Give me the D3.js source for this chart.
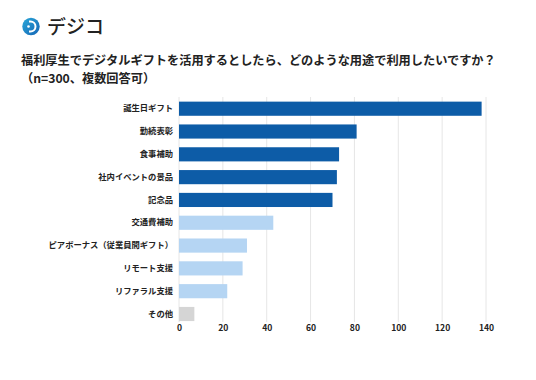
<!DOCTYPE html>
<html><head><meta charset="utf-8">
<script src="https://cdn.jsdelivr.net/npm/d3@7"></script>
<style>
body{margin:0;background:#fff;}
svg{display:block;font-family:"Noto Sans CJK JP","Noto Sans",sans-serif;}
</style></head>
<body>
<svg id="c" width="536" height="380"></svg>
<script>
const categories = ["誕生日ギフト","勤続表彰","食事補助","社内イベントの景品","記念品","交通費補助","ピアボーナス（従業員間ギフト）","リモート支援","リファラル支援","その他"];
const values = [138,81,73,72,70,43,31,29,22,7];
const groups = ["top","top","top","top","top","mid","mid","mid","mid","other"];
const tickValues = [0,20,40,60,80,100,120,140];
const titleLines = ["福利厚生でデジタルギフトを活用するとしたら、どのような用途で利用したいですか？","（n=300、複数回答可）"];
const colors = {top:"#0d5ca7", mid:"#b5d5f3", other:"#d5d5d5"};

const svg = d3.select("#c");
// logo
const defs = svg.append("defs");
const grad = defs.append("linearGradient").attr("id","lg").attr("x1","0").attr("y1","0").attr("x2","1").attr("y2","1");
grad.append("stop").attr("offset","0").attr("stop-color","#2aa7d8");
grad.append("stop").attr("offset","1").attr("stop-color","#1565b5");
svg.append("circle").attr("cx",31).attr("cy",26.5).attr("r",8.7).attr("fill","url(#lg)");
svg.append("path").attr("d","M29,21.5 h1.5 a5,5 0 0 1 0,10 h-1.5").attr("fill","none").attr("stroke","#fff").attr("stroke-width",2);
svg.append("circle").attr("cx",28.5).attr("cy",26.5).attr("r",1.3).attr("fill","#fff");
svg.append("text").attr("x",47).attr("y",33.5).attr("font-size",19).attr("font-weight",500).attr("fill","#222").text("デジコ");

// title
svg.selectAll("text.title").data(titleLines).join("text").attr("class","title")
  .attr("x",21).attr("y",(d,i)=>65+i*17.5).attr("font-size",12.2).attr("font-weight",700).attr("fill","#222").text(d=>d);

const x = d3.scaleLinear().domain([0,140]).range([179,486]);
const y = d3.scaleBand().domain(categories).range([97.3,325.4]).paddingInner(0.38).paddingOuter(0.19);

// grid
svg.append("g").selectAll("line").data(tickValues).join("line")
  .attr("x1",d=>x(d)).attr("x2",d=>x(d)).attr("y1",97).attr("y2",322)
  .attr("stroke","#e6e6e6").attr("stroke-width",1);

// bars
svg.append("g").selectAll("rect").data(categories).join("rect")
  .attr("x",x(0)).attr("y",d=>y(d)).attr("height",y.bandwidth())
  .attr("width",(d,i)=>x(values[i])-x(0)).attr("fill",(d,i)=>colors[groups[i]]);

// y labels
const yAxis = d3.axisLeft(y).tickSize(0).tickPadding(6);
const gy = svg.append("g").attr("transform","translate(179,0)").call(yAxis);
gy.select(".domain").remove();
gy.selectAll("text").attr("font-size",8.3).attr("font-weight",700).attr("fill","#222").attr("font-family","Noto Sans CJK JP");

// x labels
const xAxis = d3.axisBottom(x).tickValues(tickValues).tickSize(0).tickPadding(0);
const gx = svg.append("g").attr("transform","translate(0,325)").call(xAxis);
gx.select(".domain").remove();
gx.selectAll("text").attr("font-size",8.6).attr("font-weight",700).attr("fill","#222").attr("font-family","Noto Sans CJK JP");
</script>
</body></html>
